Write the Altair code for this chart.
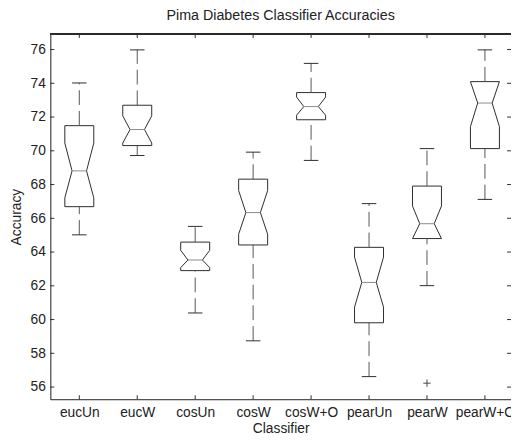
import json
import altair as alt
import pandas as pd

names = ["eucUn", "eucW", "cosUn", "cosW", "cosW+O", "pearUn", "pearW", "pearW+O"]
whisker_lo = [65.02, 69.72, 60.39, 58.74, 69.43, 56.62, 62.01, 67.12]
q1 = [66.69, 70.31, 62.90, 64.42, 71.84, 59.81, 64.80, 70.13]
notch_lo = [67.21, 70.46, 63.08, 65.06, 72.11, 60.74, 64.80, 71.43]
median = [68.81, 71.26, 63.53, 66.34, 72.62, 62.20, 65.68, 72.83]
notch_hi = [70.46, 72.07, 64.10, 67.64, 73.18, 63.70, 66.73, 74.10]
q3 = [71.49, 72.70, 64.59, 68.32, 73.45, 64.28, 67.91, 74.10]
whisker_hi = [74.02, 75.98, 65.52, 69.92, 75.18, 66.87, 70.13, 75.98]
outlier_group = ["pearW"]
outlier_value = [56.23]
y_ticks = [56, 58, 60, 62, 64, 66, 68, 70, 72, 74, 76]

W, H = 468, 371
HW, NW, CW = 0.25, 0.125, 0.125
FONT = "Liberation Sans"
INK = "#2b2b2b"
FS = 14

xscale = alt.Scale(domain=[0.5, 8.45], nice=False, zero=False)
yscale = alt.Scale(domain=[55.28, 76.92], nice=False, zero=False)
label_expr = json.dumps(names) + "[datum.value - 1]"
xaxis = alt.Axis(values=list(range(1, len(names) + 1)), labelExpr=label_expr,
                 title="Classifier", grid=False, ticks=False, tickSize=0,
                 labelPadding=7, labelFlush=False, labelOverlap=False,
                 domainColor=INK, labelColor="#222", titleColor="#222",
                 labelFont=FONT, titleFont=FONT, labelFontSize=FS, titleFontSize=FS,
                 titleFontWeight="normal", titleY=23, titleBaseline="top")
yaxis = alt.Axis(values=y_ticks, title="Accuracy", grid=False, ticks=False, tickSize=0,
                 labelPadding=5, domainColor=INK, labelColor="#222", titleColor="#222",
                 labelFont=FONT, titleFont=FONT, labelFontSize=FS, titleFontSize=FS,
                 titleFontWeight="normal", titleX=-27, titleY=H / 2, titleBaseline="bottom")


def X(field):
    return alt.X(field, type="quantitative", scale=xscale, axis=xaxis)


def Y(field):
    return alt.Y(field, type="quantitative", scale=yscale, axis=yaxis)


# notched box outlines
rows = []
for i, n in enumerate(names):
    c = i + 1
    pts = [(-HW, q3[i]), (HW, q3[i]), (HW, notch_hi[i]), (NW, median[i]),
           (HW, notch_lo[i]), (HW, q1[i]), (-HW, q1[i]), (-HW, notch_lo[i]),
           (-NW, median[i]), (-HW, notch_hi[i]), (-HW, q3[i])]
    for k, (dx, v) in enumerate(pts):
        rows.append({"g": n, "k": k, "x": c + dx, "y": v})
box_df = pd.DataFrame(rows)

stats = pd.DataFrame({
    "g": names, "c": list(range(1, len(names) + 1)),
    "lo": whisker_lo, "q1": q1, "med": median, "q3": q3, "hi": whisker_hi,
})
stats["nl"] = stats["c"] - NW
stats["nr"] = stats["c"] + NW
stats["cl"] = stats["c"] - CW
stats["cr"] = stats["c"] + CW

out_df = pd.DataFrame({"g": outlier_group, "y": outlier_value})
out_df["c"] = [names.index(g) + 1 for g in outlier_group]

boxes = alt.Chart(box_df).mark_line(color=INK, strokeWidth=1).encode(
    x=X("x"), y=Y("y"), detail="g:N", order="k:Q")
med_rule = alt.Chart(stats).mark_rule(color="#8a8a8a", strokeWidth=1).encode(
    x=X("nl"), x2="nr", y=Y("med"))
up_wh = alt.Chart(stats).mark_rule(color="#555", strokeWidth=1, strokeDash=[15, 6]).encode(
    x=X("c"), y=Y("q3"), y2="hi")
lo_wh = alt.Chart(stats).mark_rule(color="#555", strokeWidth=1, strokeDash=[15, 6]).encode(
    x=X("c"), y=Y("lo"), y2="q1")
cap_hi = alt.Chart(stats).mark_rule(color=INK, strokeWidth=1).encode(
    x=X("cl"), x2="cr", y=Y("hi"))
cap_lo = alt.Chart(stats).mark_rule(color=INK, strokeWidth=1).encode(
    x=X("cl"), x2="cr", y=Y("lo"))
outl = alt.Chart(out_df).mark_point(shape="M-1,0H1M0,-1V1", size=55, filled=False,
                                    color="#444", strokeWidth=1, opacity=1).encode(
    x=X("c"), y=Y("y"))

ytick_df = pd.DataFrame({"v": y_ticks})
xtick_df = pd.DataFrame({"v": list(range(1, len(names) + 1))})
tk = dict(color=INK, strokeWidth=1)
left_ticks = alt.Chart(ytick_df).mark_rule(**tk).encode(
    y=Y("v"), x=alt.value(0), x2=alt.value(4))
right_ticks = alt.Chart(ytick_df).mark_rule(**tk).encode(
    y=Y("v"), x=alt.value(W - 4), x2=alt.value(W))
top_ticks = alt.Chart(xtick_df).mark_rule(**tk).encode(
    x=X("v"), y=alt.value(0), y2=alt.value(4))
bot_ticks = alt.Chart(xtick_df).mark_rule(**tk).encode(
    x=X("v"), y=alt.value(H - 4), y2=alt.value(H))
top_frame = alt.Chart(xtick_df).mark_rule(**tk).encode(
    x=alt.value(0), x2=alt.value(W), y=alt.value(0))

chart = alt.layer(
    boxes, med_rule, up_wh, lo_wh, cap_hi, cap_lo, outl,
    left_ticks, right_ticks, top_ticks, bot_ticks, top_frame,
).properties(
    width=W, height=H,
    title=alt.TitleParams("Pima Diabetes Classifier Accuracies", font=FONT, fontSize=14.5,
                          fontWeight="normal", color="#222", anchor="middle", offset=10),
    autosize=alt.AutoSizeParams(type="none"),
    padding={"left": 43, "top": 23, "right": 0, "bottom": 38},
).configure_view(stroke=None).configure(background="white")

chart.save("out.html", embed_options={"renderer": "svg", "actions": False})
